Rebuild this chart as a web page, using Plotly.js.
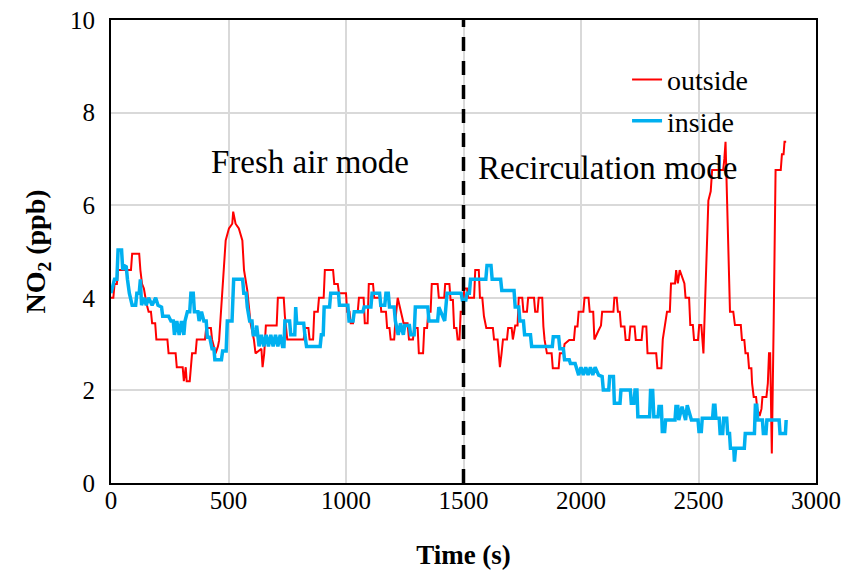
<!DOCTYPE html>
<html>
<head>
<meta charset="utf-8">
<script src="https://cdn.plot.ly/plotly-3.0.1.min.js"></script>
<style>html,body{margin:0;padding:0;background:#fff;}#chart{width:849px;height:575px;}</style>
</head>
<body>
<div id="chart"></div>
<script>
// Outside NO2 (ppb) readings: time (s) and value
const outsideTime = [0,10,15,25,30,85,90,120,125,132,140,150,160,170,175,188,193,240,245,275,280,305,310,318,322,335,340,345,360,365,400,405,425,430,445,455,460,474,488,502,516,520,530,544,559,566,580,594,608,615,640,645,652,659,705,710,735,740,750,820,825,840,845,860,865,880,885,905,910,945,950,965,970,1000,1005,1015,1020,1030,1035,1050,1055,1075,1080,1092,1097,1115,1120,1145,1150,1170,1175,1185,1190,1205,1210,1220,1235,1245,1262,1268,1285,1290,1305,1310,1328,1333,1345,1350,1360,1365,1390,1395,1418,1422,1440,1445,1455,1460,1470,1475,1483,1488,1498,1503,1515,1520,1545,1550,1565,1570,1580,1587,1597,1625,1630,1645,1650,1655,1662,1668,1685,1690,1705,1710,1720,1730,1735,1750,1755,1770,1775,1800,1805,1815,1820,1835,1840,1845,1855,1875,1880,1905,1910,1925,1930,1950,1970,1975,1985,1990,2010,2015,2032,2037,2052,2057,2075,2085,2090,2138,2142,2152,2157,2165,2170,2185,2190,2205,2210,2228,2233,2258,2263,2278,2283,2320,2325,2342,2348,2358,2366,2378,2383,2400,2405,2412,2420,2440,2445,2460,2465,2476,2481,2498,2503,2512,2516,2521,2542,2552,2558,2605,2610,2615,2634,2648,2655,2680,2685,2695,2700,2710,2715,2725,2728,2735,2745,2750,2760,2768,2772,2789,2795,2800,2805,2812,2820,2828,2850,2855,2862,2866,2873];
const outsideNO2 = [4.0,4.0,4.3,4.3,4.6,4.6,4.95,4.95,4.6,4.3,4.2,3.9,3.7,3.7,3.45,3.45,3.1,3.1,2.8,2.8,2.5,2.5,2.2,2.5,2.2,2.2,2.5,2.8,2.8,3.1,3.1,3.35,3.35,3.1,2.8,2.95,3.08,4.16,5.24,5.5,5.6,5.86,5.6,5.5,5.24,4.6,4.16,3.45,3.1,2.8,2.9,2.5,2.8,3.4,3.4,4.0,4.0,3.6,3.1,3.1,3.35,3.35,3.1,3.1,3.7,3.7,4.0,4.0,4.6,4.6,4.3,4.3,4.1,4.1,3.7,3.7,3.45,3.45,3.7,3.7,4.0,4.0,3.45,3.45,4.3,4.3,4.0,4.0,3.7,3.7,3.35,3.35,3.1,3.1,3.5,4.0,3.7,3.45,3.45,3.1,3.1,3.35,3.35,2.8,2.8,3.35,3.35,3.7,3.7,4.3,4.3,4.0,4.0,4.3,4.3,3.95,3.95,3.35,3.35,3.1,3.1,3.7,3.7,4.2,4.2,4.0,4.0,4.6,4.6,4.0,4.0,3.6,3.35,3.35,3.1,3.1,2.8,2.5,2.8,3.1,3.1,3.35,3.35,3.1,3.4,3.4,4.0,4.0,3.7,3.7,4.0,4.0,3.7,3.7,4.0,4.0,3.38,3.09,2.8,2.8,2.48,2.48,2.8,2.8,3.0,3.09,3.09,3.38,3.38,3.7,3.7,4.0,4.0,3.7,3.7,3.1,3.3,3.4,3.7,3.7,4.0,4.0,3.7,3.7,3.38,3.38,3.09,3.09,3.38,3.38,3.09,3.09,3.38,3.38,2.8,2.8,2.48,2.48,3.1,3.4,3.7,3.7,4.31,4.31,4.6,4.31,4.6,4.31,4.0,4.0,3.41,3.41,3.09,3.09,3.41,3.41,3.09,2.8,6.1,6.3,6.76,6.76,7.0,7.37,3.7,3.7,3.41,3.41,3.09,3.09,2.8,2.8,2.48,2.48,2.15,1.86,1.86,1.6,1.45,1.6,1.86,1.86,2.15,2.8,2.8,0.64,3.5,6.76,6.76,7.1,7.1,7.37,7.37];

// Inside NO2 (ppb) readings: time (s) and value
const insideTime = [0,8,15,25,30,45,50,55,65,70,78,90,105,110,120,125,130,140,150,160,175,190,200,215,220,245,255,265,270,280,290,300,310,315,325,335,340,350,355,370,375,385,395,405,410,420,430,438,442,470,475,490,495,515,522,560,565,575,580,590,600,605,615,620,630,640,650,660,670,680,690,700,710,720,730,736,740,760,765,782,786,790,820,825,832,890,895,903,907,930,935,968,972,1008,1013,1030,1035,1072,1077,1106,1111,1143,1148,1165,1170,1180,1185,1205,1210,1222,1232,1244,1250,1270,1275,1290,1295,1348,1353,1390,1395,1420,1425,1430,1490,1495,1510,1515,1525,1530,1595,1600,1617,1622,1658,1663,1715,1720,1735,1740,1755,1760,1785,1790,1878,1882,1905,1910,1925,1930,1950,1955,1975,1980,1990,2000,2010,2020,2030,2040,2050,2060,2075,2090,2095,2118,2122,2138,2142,2166,2170,2210,2214,2225,2230,2238,2242,2292,2296,2305,2310,2328,2332,2342,2346,2356,2360,2400,2404,2412,2416,2430,2445,2452,2470,2498,2502,2512,2516,2560,2564,2570,2574,2588,2592,2603,2607,2620,2624,2632,2636,2650,2653,2658,2695,2699,2738,2742,2748,2752,2772,2776,2787,2791,2843,2847,2870,2873];
const insideNO2 = [4.1,4.24,4.4,4.4,5.03,5.03,4.6,4.7,4.67,4.4,4.1,3.84,3.84,4.1,4.1,4.4,3.84,4.0,3.84,4.0,3.84,4.0,3.84,3.8,3.6,3.6,3.5,3.5,3.2,3.5,3.2,3.5,3.2,3.5,3.7,3.7,4.1,4.1,3.7,3.7,3.5,3.7,3.5,3.5,3.15,3.15,2.9,2.9,2.66,2.66,2.85,2.85,3.5,3.5,4.4,4.4,4.1,4.1,3.8,3.5,3.5,3.2,3.2,3.4,2.95,3.2,2.95,3.2,2.95,3.2,2.95,3.2,2.95,3.2,2.95,2.95,3.5,3.5,3.2,3.2,3.8,3.45,3.45,3.2,2.95,2.95,3.2,3.2,3.8,3.8,4.1,4.1,3.84,3.84,3.5,3.5,3.7,3.7,3.8,3.8,4.1,4.1,3.84,3.84,4.1,4.1,3.8,3.8,3.5,3.2,3.45,3.2,3.4,3.4,3.2,3.2,3.8,3.8,3.5,3.5,3.8,3.5,3.8,4.1,4.1,3.95,3.95,4.1,4.1,4.4,4.4,4.7,4.7,4.4,4.4,4.16,4.16,3.8,3.8,3.5,3.5,3.2,3.2,2.95,2.95,3.16,3.16,2.9,2.9,2.66,2.66,2.58,2.58,2.5,2.33,2.5,2.33,2.5,2.33,2.5,2.33,2.5,2.33,2.3,2.01,2.01,2.3,2.3,1.72,1.72,2.01,2.01,1.72,1.72,2.01,2.01,1.43,1.43,2.0,2.0,1.43,1.43,1.65,1.65,1.11,1.11,1.36,1.36,1.65,1.65,1.36,1.65,1.36,1.68,1.36,1.36,1.11,1.11,1.4,1.4,1.68,1.68,1.4,1.4,1.07,1.07,1.4,1.4,1.07,1.07,0.75,0.75,0.46,0.75,0.75,1.07,1.07,1.68,1.68,1.36,1.36,1.07,1.07,1.36,1.36,1.07,1.07,1.36];

const modeSwitchTime = 1500;
const modeLabels = ["Fresh air mode", "Recirculation mode"];
const xTicks = [0, 500, 1000, 1500, 2000, 2500, 3000];
const yTicks = [0, 2, 4, 6, 8, 10];

const serif = "'Liberation Serif', 'Times New Roman', serif";

const traces = [
  {x: outsideTime, y: outsideNO2, type: "scatter", mode: "lines", name: "outside",
   legendgroup: "a", line: {color: "#ff0000", width: 2}},
  {x: insideTime, y: insideNO2, type: "scatter", mode: "lines", name: "inside",
   legendgroup: "b", line: {color: "#00b0f0", width: 3.5}}
];

const layout = {
  width: 849, height: 575,
  margin: {l: 111, r: 33, t: 20, b: 92},
  paper_bgcolor: "#fff", plot_bgcolor: "#fff",
  font: {family: serif, size: 25, color: "#000"},
  showlegend: true,
  legend: {x: 0.732, y: 0.925, xanchor: "left", yanchor: "top",
           bgcolor: "rgba(0,0,0,0)", font: {family: serif, size: 28, color: "#000"},
           traceorder: "grouped", tracegroupgap: 2},
  xaxis: {range: [0, 3000], tickvals: xTicks, ticktext: xTicks.map(String),
          showgrid: true, gridcolor: "#d9d9d9", gridwidth: 2,
          showline: true, linecolor: "#000", linewidth: 2, mirror: true,
          ticks: "", zeroline: false, ticklabelstandoff: -6,
          tickfont: {family: serif, size: 25, color: "#000"},
          title: {text: "<b>Time (s)</b>", font: {family: serif, size: 27, color: "#000"}, standoff: 32}},
  yaxis: {range: [0, 10], tickvals: yTicks, ticktext: yTicks.map(String),
          showgrid: true, gridcolor: "#d9d9d9", gridwidth: 2,
          showline: true, linecolor: "#000", linewidth: 2, mirror: true,
          ticks: "", zeroline: false, ticklabelstandoff: 9,
          tickfont: {family: serif, size: 25, color: "#000"},
          title: {text: "<b>NO<sub>2</sub> (ppb)</b>", font: {family: serif, size: 28, color: "#000"}, standoff: 16}},
  shapes: [
    {type: "line", xref: "x", yref: "y", x0: modeSwitchTime, x1: modeSwitchTime, y0: 0, y1: 10,
     line: {color: "#000", width: 3.5, dash: "14px,10px"}}
  ],
  annotations: [
    {x: 419, y: 6.93, xref: "x", yref: "y", xanchor: "left", yanchor: "middle", showarrow: false,
     text: modeLabels[0], font: {family: serif, size: 33, color: "#000"}},
    {x: 1553, y: 6.8, xref: "x", yref: "y", xanchor: "left", yanchor: "middle", showarrow: false,
     text: modeLabels[1], font: {family: serif, size: 33, color: "#000"}}
  ]
};

Plotly.newPlot("chart", traces, layout, {staticPlot: true, displayModeBar: false});
</script>
</body>
</html>
